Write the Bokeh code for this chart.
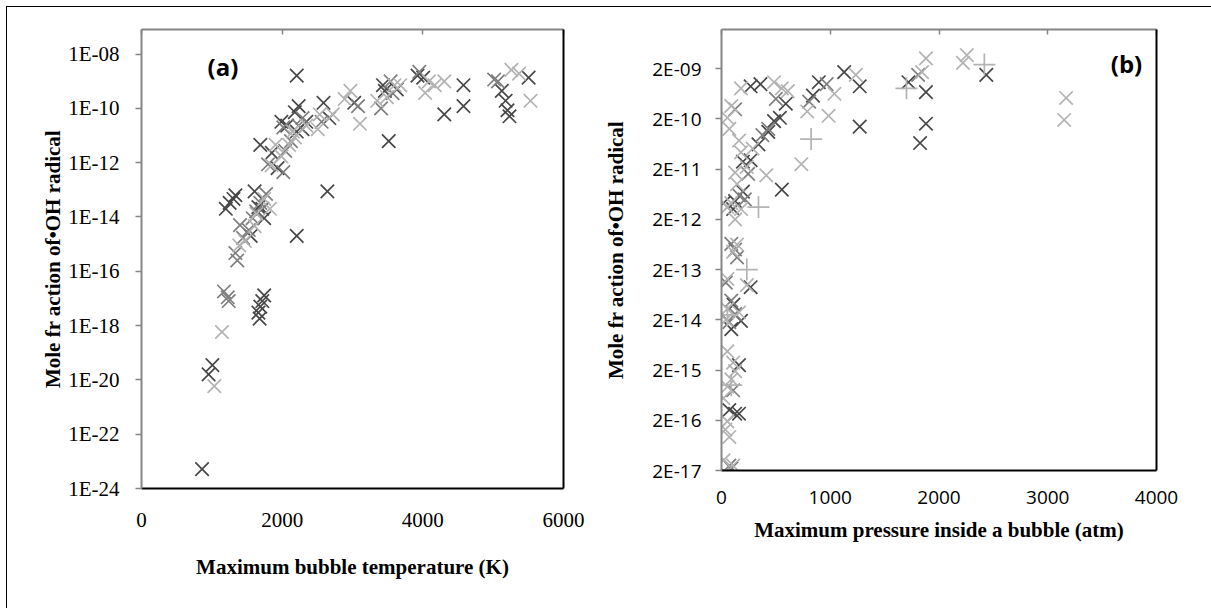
from bokeh.plotting import figure
from bokeh.models import LogAxis, LinearAxis, FixedTicker, CustomJSTickFormatter, Label
from bokeh.layouts import row
from bokeh.embed import file_html
from bokeh.resources import INLINE

# ---------------- data: panel (a) ----------------
a_x_ticks = [0, 2000, 4000, 6000]
a_y_ticks = [1e-24, 1e-22, 1e-20, 1e-18, 1e-16, 1e-14, 1e-12, 1e-10, 1e-08]

a_dark_x = [861, 1008, 954, 1689, 1744, 1662, 1717, 1680, 1553, 1662, 1608, 1717, 1744, 1253, 1308, 1335, 1199,
            1689, 1853, 1935, 2207, 2289, 2343, 1989, 2071, 2180, 2234, 2207, 2588, 2670, 2643, 2207, 3024, 3433,
            3460, 3515, 3924, 4005, 4305, 4578, 4578, 5123, 5177, 5204, 5232, 5504, 3630]
a_dark_y = [5.2e-24, 3.5e-20, 1.6e-20, 5e-18, 1.3e-17, 3e-18, 8e-18, 1.8e-18, 2e-15, 2.3e-14, 8.7e-14, 2e-14, 9e-15,
            3.3e-14, 4.6e-14, 6.3e-14, 2e-14, 4.5e-12, 2.3e-12, 6.3e-13, 1.4e-11, 1.7e-11, 3.2e-11, 3.2e-11, 2.3e-11,
            7.2e-11, 1.2e-10, 1.6e-9, 1.6e-10, 4.4e-11, 8.7e-14, 2e-15, 1.6e-10, 7.1e-10, 4.4e-10, 6.2e-12, 1.6e-9,
            1.35e-9, 6e-11, 7.1e-10, 1.2e-10, 4.4e-10, 1.9e-10, 8.5e-11, 5.1e-11, 1.35e-9, 5e-10]

a_med_x = [1172, 1226, 1240, 1362, 1335, 1444, 1526, 1580, 1689, 1771, 1799, 2016, 2043, 2125, 2234, 2289, 2016,
           2561, 3079, 3406, 3542, 3570, 3950, 5014, 5068, 1400, 1630]
a_med_y = [1.8e-17, 1.1e-17, 8e-18, 2.5e-16, 4.7e-16, 1.7e-15, 3.3e-15, 9e-15, 3.3e-14, 7e-14, 8.7e-13, 4.5e-13,
           2.7e-12, 6.2e-12, 2.3e-11, 4.4e-11, 2e-11, 3.2e-11, 1.2e-10, 1e-10, 9.8e-10, 3.6e-10, 2.2e-9, 1.15e-9,
           9.8e-10, 5e-15, 1.6e-14]

a_light_x = [1035, 1144, 1390, 1471, 1608, 1635, 1744, 1826, 1907, 1989, 2098, 2180, 2343, 2152, 2507, 2534, 2720,
             2888, 2970, 3106, 3351, 3488, 3597, 3679, 4033, 4087, 4169, 4305, 5259, 5368, 5531, 1850]
a_light_y = [5.9e-21, 5.8e-19, 8.9e-16, 1.3e-15, 4.6e-15, 1.3e-14, 4.6e-14, 2e-14, 4.5e-12, 1.7e-12, 4.5e-12,
             8.5e-12, 2.3e-11, 1.4e-11, 1.7e-11, 6e-11, 6e-11, 2.2e-10, 4.4e-10, 2.7e-11, 1.9e-10, 2.6e-10, 7.1e-10,
             7.1e-10, 3.7e-10, 9.8e-10, 7.1e-10, 9.8e-10, 2.6e-9, 1.9e-9, 1.9e-10, 8e-13]

# ---------------- data: panel (b) ----------------
b_x_ticks = [0, 1000, 2000, 3000, 4000]
b_y_ticks = [2e-17, 2e-16, 2e-15, 2e-14, 2e-13, 2e-12, 2e-11, 2e-10, 2e-09]

b_dark_x = [2435, 1719, 1880, 1880, 1826, 1271, 1271, 1128, 895, 841, 591, 537, 483, 358, 268, 340, 555, 268, 197,
            197, 125, 18, 107, 268, 179, 90, 161, 72, 125, 161, 90, 36, 110, 430]
b_dark_y = [1.5e-9, 1.07e-9, 6.8e-10, 1.6e-10, 6.6e-11, 8.9e-10, 1.4e-10, 1.7e-9, 1.07e-9, 5.8e-10, 4e-10, 2.1e-10,
            1.8e-10, 9.8e-10, 8.9e-10, 6.2e-11, 7.8e-12, 3e-11, 2.8e-11, 7.1e-12, 4.6e-12, 4.2e-12, 3.2e-12, 8.9e-14,
            1.9e-14, 1.3e-14, 2.5e-15, 3.2e-16, 2.7e-16, 2.7e-16, 2.2e-17, 1.8e-17, 4e-14, 1.1e-10]

b_med_x = [1808, 967, 806, 430, 376, 125, 161, 215, 90, 125, 143, 90, 125, 72, 107, 72, 500, 245, 40]
b_med_y = [1.5e-9, 9.8e-10, 4.4e-10, 1.26e-10, 9.5e-11, 3.1e-10, 6e-12, 5e-12, 6.5e-13, 5e-13, 3.5e-13, 4.8e-14,
           2.6e-14, 1.8e-14, 7.9e-16, 2.5e-17, 5e-10, 1.6e-11, 1.1e-13]

b_light_x = [2256, 2220, 1880, 1844, 1235, 1038, 985, 788, 734, 555, 610, 483, 179, 286, 412, 90, 54, 72, 161, 179,
             125, 143, 90, 54, 232, 54, 233, 54, 40, 54, 107, 125, 90, 54, 18, 54, 36, 72, 18, 107, 3169, 3151, 143,
             107, 161, 125, 180]
b_light_y = [3.7e-9, 2.6e-9, 3.2e-9, 1.7e-9, 1.5e-9, 6.3e-10, 2.3e-10, 2.8e-10, 2.5e-11, 8.1e-10, 7.1e-10, 1.07e-9,
             8.1e-10, 5.1e-11, 1.5e-11, 3.6e-10, 2.1e-10, 1.26e-10, 7.4e-11, 4.3e-11, 1.7e-11, 1e-11, 4.2e-12,
             3.5e-12, 2.2e-11, 1.3e-13, 9.8e-14, 3.3e-14, 2e-14, 4.7e-15, 2.8e-15, 1.9e-15, 1.3e-15, 9.3e-16,
             5.5e-16, 1.9e-16, 1.3e-16, 9.3e-17, 3.2e-17, 2.5e-17, 5.2e-10, 1.9e-10, 6.3e-13, 4.5e-13, 2.8e-14,
             2e-12, 3.2e-12]

b_plus_x = [2417, 1701, 824, 340, 233, 54, 90]
b_plus_y = [2.4e-9, 8.1e-10, 7.9e-11, 3.5e-12, 2e-13, 2.5e-14, 1e-15]

# ---------------- styling ----------------
DARK = "#474747"
MED = "#7f7f7f"
LIGHT = "#b3b3b3"
AXIS_GRAY = "#868686"
SERIF = "Liberation Serif"
SANS = "Open Sans"
Y_TITLE = "Mole fr action of\u2022OH radical"

exp_fmt = CustomJSTickFormatter(code="""
const s = tick.toExponential(0);
const parts = s.split('e');
const n = parseInt(parts[1]);
const a = Math.abs(n);
return parts[0] + 'E' + (n < 0 ? '-' : '+') + (a < 10 ? '0' + a : '' + a);
""")


def blank_fmt():
    return CustomJSTickFormatter(code="return '';")


def style_panel(p, x_ticks, y_ticks, tick_font, tick_size, x_standoff, y_standoff, xl_standoff, yl_standoff):
    p.grid.visible = False
    p.outline_line_color = None
    p.background_fill_color = "white"
    p.border_fill_color = "white"

    xa = p.xaxis[0]
    xa.ticker = FixedTicker(ticks=x_ticks)
    xa.axis_line_color = "black"
    xa.axis_line_width = 2
    xa.major_tick_out = 0
    xa.major_tick_in = 0
    xa.major_tick_line_color = None
    xa.minor_tick_line_color = None
    xa.major_label_text_font = tick_font
    xa.major_label_text_font_size = tick_size
    xa.major_label_text_color = "black"
    xa.major_label_standoff = x_standoff
    xa.axis_label_text_font = SERIF
    xa.axis_label_text_font_style = "bold"
    xa.axis_label_text_font_size = "21px"
    xa.axis_label_text_color = "black"
    xa.axis_label_standoff = xl_standoff

    ya = p.yaxis[0]
    ya.ticker = FixedTicker(ticks=y_ticks)
    ya.formatter = exp_fmt
    ya.axis_line_color = AXIS_GRAY
    ya.axis_line_width = 2
    ya.major_tick_line_color = AXIS_GRAY
    ya.major_tick_line_width = 1.5
    ya.major_tick_out = 6
    ya.major_tick_in = 0
    ya.minor_tick_line_color = None
    ya.major_label_text_font = tick_font
    ya.major_label_text_font_size = tick_size
    ya.major_label_text_color = "black"
    ya.major_label_standoff = y_standoff
    ya.axis_label_text_font = SERIF
    ya.axis_label_text_font_style = "bold"
    ya.axis_label_text_font_size = "21px"
    ya.axis_label_text_color = "black"
    ya.axis_label_standoff = yl_standoff

    top = LinearAxis(ticker=FixedTicker(ticks=x_ticks), formatter=blank_fmt())
    top.axis_line_color = AXIS_GRAY
    top.axis_line_width = 2
    top.major_tick_line_color = AXIS_GRAY
    top.major_tick_line_width = 1.5
    top.major_tick_in = 5
    top.major_tick_out = 0
    top.minor_tick_line_color = None
    top.major_label_standoff = 0
    top.major_label_text_font_size = "1px"
    p.add_layout(top, "above")

    right = LogAxis(ticker=FixedTicker(ticks=[]), formatter=blank_fmt())
    right.axis_line_color = "black"
    right.axis_line_width = 2
    right.major_tick_line_color = None
    right.minor_tick_line_color = None
    right.major_label_standoff = 0
    right.major_label_text_font_size = "1px"
    p.add_layout(right, "right")


# ---------------- panel (a) ----------------
p1 = figure(x_range=(0, 6000), y_range=(1e-24, 8e-8), y_axis_type="log",
            frame_width=422, frame_height=459,
            min_border_left=134, min_border_right=38, min_border_top=21, min_border_bottom=121,
            x_axis_label="Maximum bubble temperature (K)", y_axis_label=Y_TITLE,
            output_backend="svg", toolbar_location=None)
style_panel(p1, a_x_ticks, a_y_ticks, SERIF, "21px", 24, 16, 25, 0)

MS = 19
LW = 1.7
p1.scatter(a_dark_x, a_dark_y, marker="x", size=MS, line_color=DARK, line_width=LW)
p1.scatter(a_med_x, a_med_y, marker="x", size=MS, line_color=MED, line_width=LW)
p1.scatter(a_light_x, a_light_y, marker="x", size=MS, line_color=LIGHT, line_width=LW)

p1.add_layout(Label(x=940, y=3.4e-9, text="(a)", text_font=SANS, text_font_style="bold",
                    text_font_size="24px", text_color="black", text_baseline="middle", text_align="left"))

# ---------------- panel (b) ----------------
p2 = figure(x_range=(0, 4000), y_range=(2e-17, 1.2e-8), y_axis_type="log",
            frame_width=435, frame_height=441,
            min_border_left=118, min_border_right=56, min_border_top=22, min_border_bottom=138,
            x_axis_label="Maximum pressure inside a bubble (atm)", y_axis_label=Y_TITLE,
            output_backend="svg", toolbar_location=None)
style_panel(p2, b_x_ticks, b_y_ticks, SANS, "19px", 20, 14, 11, 21)

p2.scatter(b_dark_x, b_dark_y, marker="x", size=MS, line_color=DARK, line_width=LW)
p2.scatter(b_med_x, b_med_y, marker="x", size=MS, line_color=MED, line_width=LW)
p2.scatter(b_light_x, b_light_y, marker="x", size=MS, line_color=LIGHT, line_width=LW)
p2.scatter(b_plus_x, b_plus_y, marker="cross", size=22, line_color=LIGHT, line_width=LW)

p2.add_layout(Label(x=3724, y=2.5e-9, text="(b)", text_font=SANS, text_font_style="bold",
                    text_font_size="24px", text_color="black", text_baseline="middle", text_align="center"))

layout = row(p1, p2, styles={"border-left": "1px solid black", "border-top": "1px solid black",
                             "margin-left": "6px", "margin-top": "6px"})

open("out.html", "w").write(file_html(layout, INLINE))
